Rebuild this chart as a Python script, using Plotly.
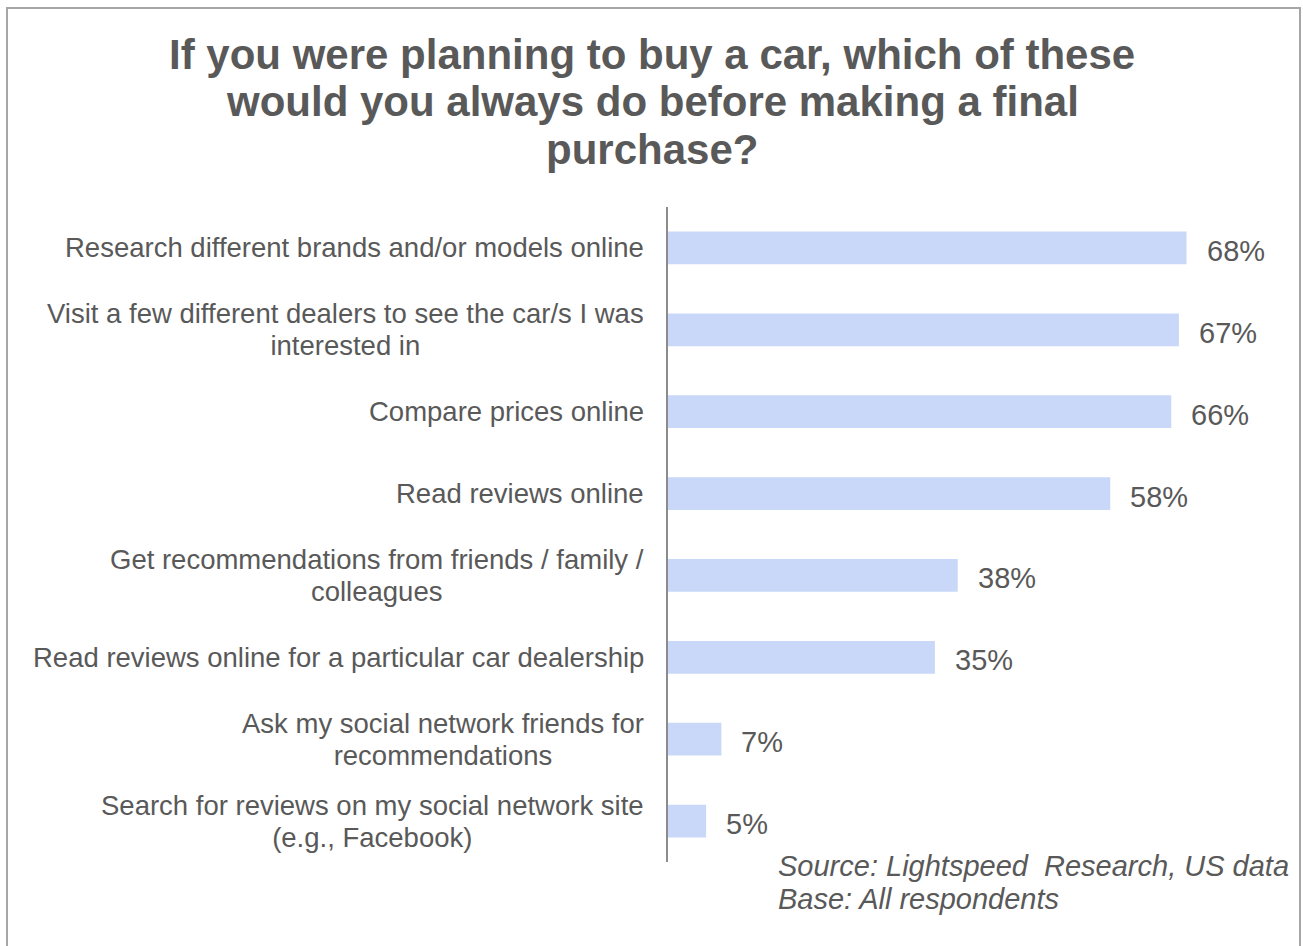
import plotly.graph_objects as go

# Survey answers (top to bottom) and share of respondents, in percent
categories = [
    "Research different brands and/or models online",
    "Visit a few different dealers to see the car/s I was<br>interested in",
    "Compare prices online",
    "Read reviews online",
    "Get recommendations from friends / family /<br>colleagues",
    "Read reviews online for a particular car dealership",
    "Ask my social network friends for<br>recommendations",
    "Search for reviews on my social network site<br>(e.g., Facebook)",
]
values = [68, 67, 66, 58, 38, 35, 7, 5]
value_labels = ["68%", "67%", "66%", "58%", "38%", "35%", "7%", "5%"]

title_lines = [
    "If you were planning to buy a car, which of these",
    "would you always do before making a final",
    "purchase?",
]
source_lines = [
    "Source: Lightspeed  Research, US data",
    "Base: All respondents",
]

W, H = 1303, 946
L, R, T, B = 668, 25, 207, 84
plot_w = W - L - R
plot_h = H - T - B

TEXT = "#595959"
FONT = "Liberation Sans, Arial, sans-serif"


def px_x(px):
    return (px - L) / plot_w


def px_y(py):
    return (H - B - py) / plot_h


def sized(text, px):
    # larger glyphs inside each line while the leading follows the base size
    return "<br>".join('<span style="font-size:%.1fpx">%s</span>' % (px, part)
                       for part in text.split("<br>"))


fig = go.Figure()
fig.add_trace(go.Bar(
    x=values,
    y=categories,
    orientation="h",
    width=0.4,
    marker=dict(color="#C9D8F8", line=dict(width=0)),
    hoverinfo="skip",
))

annotations = []
# category labels, right-aligned next to the axis, multi-line centred
for cat in categories:
    annotations.append(dict(
        x=0, xref="x", y=cat, yref="y",
        xanchor="right", yanchor="middle", xshift=-22,
        text=sized(cat, 27.5), showarrow=False, align="center",
        font=dict(family=FONT, size=24.6, color=TEXT),
    ))
# value labels beyond the bar ends
for cat, v, lab in zip(categories, values, value_labels):
    annotations.append(dict(
        x=v, xref="x", y=cat, yref="y",
        xanchor="left", yanchor="middle", xshift=18, yshift=-3,
        text=lab, showarrow=False,
        font=dict(family=FONT, size=29, color=TEXT),
    ))
# title, one line per annotation for tighter leading
for i, line in enumerate(title_lines):
    annotations.append(dict(
        x=px_x(652), xref="paper", y=px_y(54 + 47.5 * i), yref="paper",
        xanchor="center", yanchor="middle",
        text="<b>" + line + "</b>", showarrow=False,
        font=dict(family=FONT, size=42, color=TEXT),
    ))
# source note
for i, line in enumerate(source_lines):
    annotations.append(dict(
        x=px_x(776), xref="paper", y=px_y(866 + 33 * i), yref="paper",
        xanchor="left", yanchor="middle",
        text="<i>" + line + "</i>", showarrow=False,
        font=dict(family=FONT, size=29, color=TEXT),
    ))

fig.update_layout(
    width=W, height=H,
    margin=dict(l=L, r=R, t=T, b=B, pad=0),
    paper_bgcolor="white",
    plot_bgcolor="white",
    showlegend=False,
    annotations=annotations,
    shapes=[dict(
        type="rect", xref="paper", yref="paper",
        x0=px_x(7), x1=px_x(1300), y0=px_y(960), y1=px_y(8),
        line=dict(color="#A6A6A6", width=2), fillcolor="rgba(0,0,0,0)",
        layer="above",
    )],
    xaxis=dict(
        range=[0, 80], showgrid=False, zeroline=False,
        showticklabels=False, showline=False, ticks="",
    ),
    yaxis=dict(
        categoryorder="array", categoryarray=categories,
        range=[7.5, -0.5], showgrid=False, zeroline=False,
        showticklabels=False, ticks="",
        showline=True, linecolor="#8C8C8C", linewidth=2,
    ),
)

fig.write_html("out.html")
